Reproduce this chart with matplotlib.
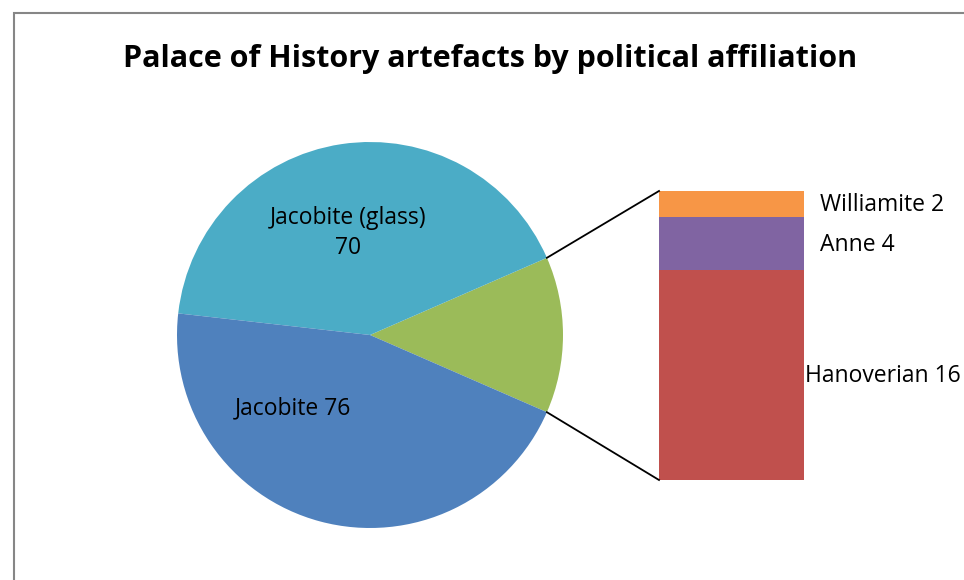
import numpy as np
import matplotlib.pyplot as plt
from matplotlib.patches import Rectangle

# main pie
pie_labels = ['Jacobite (glass)', 'Jacobite']
pie_values = [70, 76]
pie_colors = ['#4BACC6', '#4F81BD']
other_color = '#9BBB59'

# breakdown of the "other" slice
bar_labels = ['Hanoverian', 'Anne', 'Williamite']
bar_values = [16, 4, 2]
bar_colors = ['#C0504D', '#8064A2', '#F79646']

W, H = 964, 580
fig = plt.figure(figsize=(W / 100, H / 100), dpi=100)
ax = fig.add_axes([0, 0, 1, 1])

other = sum(bar_values)
total = other + sum(pie_values)
cx, cy, r = 370, 245, 193
start = -180.0 * other / total

ax.pie([other] + pie_values, colors=[other_color] + pie_colors,
       startangle=start, counterclock=True, center=(cx, cy), radius=r,
       frame=True, wedgeprops=dict(linewidth=0))

# stacked bar for the other slice
bx, bw, by = 731.5, 145, 100
scale = 289 / other
bottom = by
for val, col in zip(bar_values, bar_colors):
    ax.bar(bx, val * scale, width=bw, bottom=bottom, color=col, linewidth=0)
    bottom += val * scale

# connector lines
a = np.radians(-start)
ax.plot([cx + r * np.cos(a), bx - bw / 2], [cy + r * np.sin(a), by + other * scale],
        color='black', lw=1.3)
ax.plot([cx + r * np.cos(a), bx - bw / 2], [cy - r * np.sin(a), by],
        color='black', lw=1.3)

fnt = 'Open Sans'
fs = 16.5
ax.text(348, 347, f'{pie_labels[0]}\n{pie_values[0]}', ha='center', va='center',
        fontsize=fs, family=fnt, linespacing=1.35)
ax.text(293, 172, f'{pie_labels[1]} {pie_values[1]}', ha='center', va='center',
        fontsize=fs, family=fnt)
ax.text(820, 375, f'{bar_labels[2]} {bar_values[2]}', ha='left', va='center',
        fontsize=fs, family=fnt)
ax.text(820, 335, f'{bar_labels[1]} {bar_values[1]}', ha='left', va='center',
        fontsize=fs, family=fnt)
ax.text(805, 204, f'{bar_labels[0]} {bar_values[0]}', ha='left', va='center',
        fontsize=fs, family=fnt)

ax.text(490, 521, 'Palace of History artefacts by political affiliation',
        ha='center', va='center', fontsize=22, fontweight='bold', family=fnt)

ax.add_patch(Rectangle((14, -20), 1000, 587, fill=False, edgecolor='#868686', lw=1.5))

ax.set_xlim(0, W)
ax.set_ylim(0, H)
ax.set_aspect('auto')
ax.axis('off')

fig.savefig('out.png', dpi=100)
